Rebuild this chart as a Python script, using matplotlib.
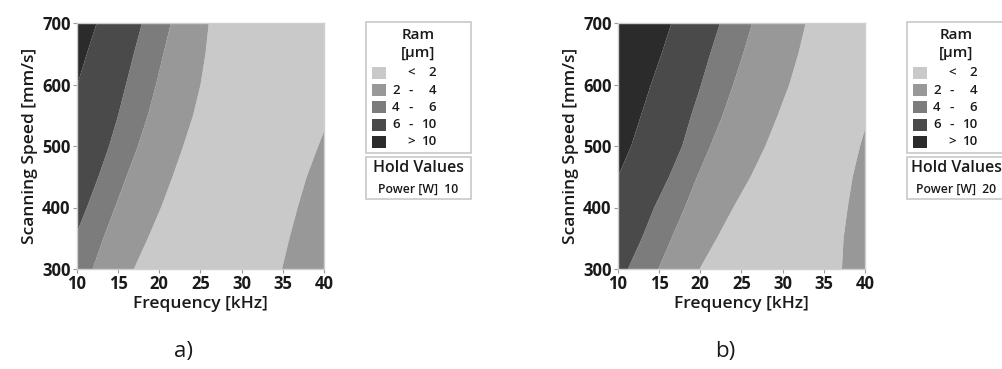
import numpy as np
import matplotlib
matplotlib.use("Agg")
import matplotlib.pyplot as plt
from matplotlib.patches import Rectangle

# ---------------- data ----------------
speed = [300, 350, 400, 450, 500, 550, 600, 650, 700]          # Scanning Speed [mm/s]
levels = [0, 2, 4, 6, 10, 100]                                  # Ram [µm] class limits
class_labels = [("", "<", "2"), ("2", "-", "4"), ("4", "-", "6"),
                ("6", "-", "10"), ("", ">", "10")]

# frequency [kHz] at which each contour level is crossed, per scanning speed
# panel a) Power 10 W
a_f10 = [2.9, 4.1, 5.3, 6.5, 7.7, 8.9, 10.05, 11.2, 12.4]
a_f6 = [8.2, 9.7, 11.2, 12.6, 13.9, 15.0, 15.95, 16.9, 17.9]
a_f4 = [11.9, 13.2, 14.6, 16.0, 17.4, 18.6, 19.6, 20.5, 21.4]
a_f2 = [16.9, 18.6, 20.2, 21.6, 22.9, 24.1, 25.0, 25.6, 26.0]
a_f2r = [34.9, 35.8, 36.8, 37.9, 39.3, 40.8, 42.5, 44.3, 46.0]
# panel b) Power 20 W
b_f10 = [5.2, 6.8, 8.4, 10.0, 11.6, 12.8, 14.0, 15.3, 16.5]
b_f6 = [11.2, 12.9, 14.4, 16.2, 17.8, 18.9, 20.1, 21.2, 22.4]
b_f4 = [14.9, 16.5, 18.1, 19.6, 21.2, 22.7, 24.0, 25.2, 26.3]
b_f2 = [19.9, 22.0, 24.0, 26.1, 27.9, 29.4, 30.8, 31.9, 32.8]
b_f2r = [37.2, 37.4, 37.9, 38.5, 39.4, 40.5, 41.8, 43.2, 44.7]

power_values = [10, 20]
panel_tags = ["a)", "b)"]

colors = ["#c9c9c9", "#989898", "#7c7c7c", "#4a4a4a", "#2b2b2b"]

# ---------------- figure ----------------
W, H = 1003, 369
fig = plt.figure(figsize=(W / 100, H / 100), dpi=100)
FONT = ["Open Sans", "DejaVu Sans"]
TXT = "#1a1a1a"


def fx(px):
    return px / W


def fy(py):
    return 1 - py / H


def build_field(f10, f6, f4, f2, f2r, freq, yy):
    # crossing positions along the fine speed axis
    c10 = np.interp(yy, speed, f10)
    c6 = np.interp(yy, speed, f6)
    c4 = np.interp(yy, speed, f4)
    c2 = np.interp(yy, speed, f2)
    c2r = np.interp(yy, speed, f2r)
    rows = []
    for i in range(len(yy)):
        mid = 0.5 * (c2[i] + c2r[i])
        xp = [c10[i] - 12, c10[i], c6[i], c4[i], c2[i], mid, c2r[i], c2r[i] + 12]
        zp = [14, 10, 6, 4, 2, 1, 2, 3.5]
        rows.append(np.interp(freq, xp, zp))
    return np.array(rows)


freq = np.linspace(10, 40, 901)
yy = np.linspace(300, 700, 801)
panels = [
    (77, (a_f10, a_f6, a_f4, a_f2, a_f2r), 366, 471),
    (618, (b_f10, b_f6, b_f4, b_f2, b_f2r), 907, 1005),
]

for k, (left_px, bounds, lg_l, lg_r) in enumerate(panels):
    ax = fig.add_axes([fx(left_px), fy(269), fx(247), (269 - 23) / H])
    Z = build_field(*bounds, freq, yy)
    ax.contourf(freq, yy, Z, levels=levels, colors=colors, antialiased=True)
    ax.set_xlim(10, 40)
    ax.set_ylim(300, 700)
    ax.set_xticks([10, 15, 20, 25, 30, 35, 40])
    ax.set_yticks([300, 400, 500, 600, 700])
    for s in ax.spines.values():
        s.set_color("#cfcfcf")
        s.set_linewidth(1.0)
    ax.tick_params(length=3, width=0.8, color="#9a9a9a", pad=1.5,
                   labelsize=12, labelcolor=TXT)
    for lab in ax.get_xticklabels() + ax.get_yticklabels():
        lab.set_fontfamily(FONT)
        lab.set_fontweight("bold")
    ax.set_xlabel("Frequency [kHz]", fontsize=12.5, family=FONT,
                  fontweight="semibold", color=TXT, labelpad=2)
    ax.set_ylabel("Scanning Speed [mm/s]", fontsize=12.5, family=FONT,
                  fontweight="semibold", color=TXT, labelpad=3)

    # panel tag
    fig.text(fx(left_px + 107), fy(352), panel_tags[k], fontsize=16,
             family=FONT, ha="center", va="center", color=TXT)

    # ---- legend box ----
    cx = 0.5 * (lg_l + lg_r)
    fig.patches.append(Rectangle((fx(lg_l), fy(153)), fx(lg_r - lg_l), (153 - 22) / H,
                                 transform=fig.transFigure, fc="white",
                                 ec="#c8c8c8", lw=1.2))
    fig.patches.append(Rectangle((fx(lg_l), fy(199)), fx(lg_r - lg_l), (199 - 157) / H,
                                 transform=fig.transFigure, fc="white",
                                 ec="#c8c8c8", lw=1.2))
    fig.text(fx(cx), fy(35), "Ram", fontsize=11, family=FONT,
             fontweight="semibold", ha="center", va="center", color=TXT)
    fig.text(fx(cx), fy(53), "[µm]", fontsize=11, family=FONT,
             fontweight="semibold", ha="center", va="center", color=TXT)
    sq_l = lg_l + 6
    num_l = lg_l + 26
    dash_x = lg_l + 45
    num_r = lg_l + 70
    for j, (lo, sym, hi) in enumerate(class_labels):
        yc = 73 + j * 17.2
        fig.patches.append(Rectangle((fx(sq_l), fy(yc + 6)), fx(14), 12 / H,
                                     transform=fig.transFigure,
                                     fc=colors[j], ec="none"))
        if lo:
            fig.text(fx(num_l), fy(yc), lo, fontsize=9.5, family=FONT,
                     fontweight="semibold", ha="left", va="center", color=TXT)
        fig.text(fx(dash_x), fy(yc), sym, fontsize=9.5, family=FONT,
                 fontweight="semibold", ha="center", va="center", color=TXT)
        fig.text(fx(num_r), fy(yc), hi, fontsize=9.5, family=FONT,
                 fontweight="semibold", ha="right", va="center", color=TXT)
    fig.text(fx(cx), fy(168), "Hold Values", fontsize=11.5, family=FONT,
             fontweight="semibold", ha="center", va="center", color=TXT)
    fig.text(fx(cx), fy(189), f"Power [W]  {power_values[k]}", fontsize=8.8,
             family=FONT, fontweight="semibold", ha="center", va="center",
             color=TXT)

fig.savefig("out.png", dpi=100, facecolor="white")
